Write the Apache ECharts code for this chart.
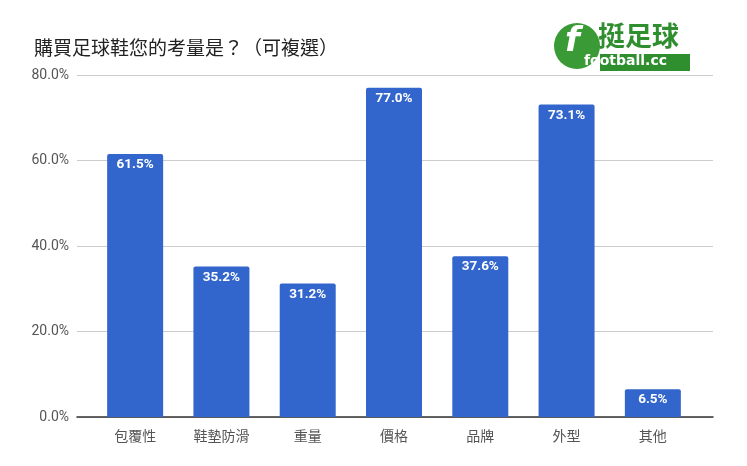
<!DOCTYPE html>
<html><head><meta charset="utf-8">
<script src="https://cdn.jsdelivr.net/npm/echarts@6/dist/echarts.min.js"></script>
<style>html,body{margin:0;padding:0;background:#fff}#c{width:747px;height:466px}</style>
</head><body><div id="c"></div>
<script>
const categories = ['包覆性','鞋墊防滑','重量','價格','品牌','外型','其他'];
const values = [61.5, 35.2, 31.2, 77.0, 37.6, 73.1, 6.5];
const yTicks = [0, 20, 40, 60, 80];
const titleText = '購買足球鞋您的考量是？（可複選）';
const FONT = "Roboto, 'Noto Sans CJK TC', sans-serif";

const chart = echarts.init(document.getElementById('c'));
chart.setOption({
  animation: false,
  title: { text: titleText, left: 29, top: 33, textStyle: { fontSize: 19, fontWeight: 'normal', color: '#222', fontFamily: "'Noto Sans CJK TC', sans-serif" } },
  grid: [
    { left: 77, right: 34, top: 75, bottom: 49 },
    { left: 92, right: 51, top: 75, bottom: 49 }
  ],
  xAxis: [
    { type: 'category', gridIndex: 0, data: categories, axisLine: { lineStyle: { color: '#333', width: 1.5 } }, axisTick: { show: false }, axisLabel: { show: false } },
    { type: 'category', gridIndex: 1, data: categories, axisLine: { show: false }, axisTick: { show: false },
      axisLabel: { color: '#555', fontSize: 14, margin: 12, fontFamily: "'Noto Sans CJK TC', sans-serif" } }
  ],
  yAxis: [
    { type: 'value', gridIndex: 0, min: yTicks[0], max: yTicks[yTicks.length-1], interval: 20,
      axisLine: { show: false }, axisTick: { show: false },
      axisLabel: { color: '#555', fontSize: 14, margin: 8, fontFamily: FONT, formatter: v => v.toFixed(1) + '%' },
      splitLine: { lineStyle: { color: '#ccc' } } },
    { type: 'value', gridIndex: 1, min: 0, max: 80, show: false, splitLine: { show: false } }
  ],
  series: [{
    type: 'bar', xAxisIndex: 1, yAxisIndex: 1, data: values, barWidth: 56,
    itemStyle: { color: '#3366cc', borderRadius: [2,2,0,0] },
    label: { show: true, position: 'insideTop', distance: 4, color: '#fff', fontWeight: 'bold', fontSize: 13.5, fontFamily: FONT,
      formatter: p => p.value.toFixed(1) + '%' }
  }],
  graphic: [
    { type: 'circle', shape: { cx: 577, cy: 46, r: 23 }, style: { fill: '#3a9a35' } },
    { type: 'text', left: 565, top: 25, style: { text: 'f', fill: '#fff', font: 'italic bold 34px "DejaVu Sans"' } },
    { type: 'text', left: 598, top: 22, style: { text: '挺足球', fill: '#2f8f2f', font: 'bold 27px "Noto Sans CJK TC"' } },
    { type: 'rect', shape: { x: 600, y: 54, width: 90, height: 17 }, style: { fill: '#2f8f2f' } },
    { type: 'text', left: 584, top: 54, style: { text: 'football.cc', fill: '#fff', font: 'bold 14px "DejaVu Sans"' } }
  ]
});
</script></body></html>
